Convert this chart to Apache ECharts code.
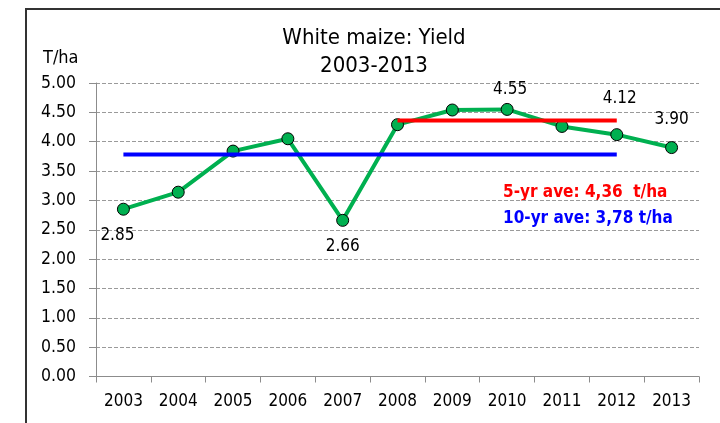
<!DOCTYPE html>
<html>
<head>
<meta charset="utf-8">
<title>White maize: Yield</title>
<script src="https://cdn.jsdelivr.net/npm/echarts@6/dist/echarts.min.js"></script>
<style>
  html, body { margin: 0; padding: 0; background: #fff; }
  #chart { width: 720px; height: 423px; }
</style>
</head>
<body>
<div id="chart"></div>
<script>
// data
const years = ["2003", "2004", "2005", "2006", "2007", "2008", "2009", "2010", "2011", "2012", "2013"];
const yieldValues = [2.85, 3.14, 3.84, 4.05, 2.66, 4.29, 4.54, 4.55, 4.26, 4.12, 3.90];
const aveFiveYr = [null, null, null, null, null, 4.36, 4.36, 4.36, 4.36, 4.36, null];
const aveTenYr = [3.78, 3.78, 3.78, 3.78, 3.78, 3.78, 3.78, 3.78, 3.78, 3.78, null];
const yTicks = [0, 0.5, 1, 1.5, 2, 2.5, 3, 3.5, 4, 4.5, 5];
const labelledYears = ["2003", "2007", "2010", "2012", "2013"];

const FONT = '"DejaVu Sans Condensed", "DejaVu Sans", sans-serif';

// where each value label sits
const labelPlace = {
  "2003": { position: "bottom", distance: 11, offset: [-6, 0] },
  "2007": { position: "bottom", distance: 11, offset: [0, 0] },
  "2010": { position: "top", distance: 5, offset: [3, 0] },
  "2012": { position: "top", distance: 21, offset: [3, 0] },
  "2013": { position: "top", distance: 13, offset: [0, 0] },
};

const chart = echarts.init(document.getElementById("chart"));

const yieldData = yieldValues.map((v, i) => {
  const yr = years[i];
  if (labelledYears.indexOf(yr) < 0) return v;
  return {
    value: v,
    label: Object.assign({ show: true }, labelPlace[yr]),
  };
});

chart.setOption({
  animation: false,
  textStyle: { fontFamily: FONT },
  grid: {
    left: 96,
    right: 21,
    top: 83,
    bottom: 46.5,
  },
  xAxis: {
    type: "category",
    data: years,
    boundaryGap: true,
    axisLine: { lineStyle: { color: "#8c8c8c", width: 1 } },
    axisTick: { show: true, inside: false, length: 6, lineStyle: { color: "#8c8c8c" } },
    axisLabel: { color: "#000", fontSize: 17, fontFamily: FONT, margin: 17 },
    splitLine: { show: false },
  },
  yAxis: {
    type: "value",
    min: yTicks[0],
    max: yTicks[yTicks.length - 1],
    interval: 0.5,
    axisLine: { show: true, lineStyle: { color: "#8c8c8c", width: 1 } },
    axisTick: { show: true, inside: false, length: 7, lineStyle: { color: "#8c8c8c" } },
    axisLabel: {
      color: "#000",
      fontSize: 17.5,
      fontFamily: FONT,
      margin: 20,
      formatter: (v) => v.toFixed(2),
    },
    splitLine: {
      show: true,
      lineStyle: { color: "#9a9a9a", type: [4, 2], width: 1 },
    },
  },
  series: [
    {
      name: "Yield",
      type: "line",
      data: yieldData,
      z: 2,
      symbol: "circle",
      symbolSize: 12,
      lineStyle: { color: "#00b050", width: 4 },
      itemStyle: { color: "#00b050", borderColor: "#000", borderWidth: 1 },
      label: {
        show: false,
        color: "#000",
        fontSize: 17,
        fontFamily: FONT,
        formatter: (p) => p.value.toFixed(2),
      },
    },
    {
      name: "10-yr ave",
      type: "line",
      data: aveTenYr,
      z: 3,
      symbol: "none",
      lineStyle: { color: "#0000ff", width: 4 },
    },
    {
      name: "5-yr ave",
      type: "line",
      data: aveFiveYr,
      z: 3,
      symbol: "none",
      lineStyle: { color: "#ff0000", width: 4 },
    },
  ],
  graphic: [
    {
      type: "rect",
      shape: { x: 26, y: 9, width: 720, height: 440 },
      style: { fill: "none", stroke: "#333", lineWidth: 2 },
      silent: true,
    },
    {
      type: "text",
      x: 374,
      y: 38,
      style: {
        text: "White maize: Yield",
        fill: "#000",
        font: "22px " + FONT,
        textAlign: "center",
        textVerticalAlign: "middle",
      },
    },
    {
      type: "text",
      x: 374,
      y: 66,
      style: {
        text: "2003-2013",
        fill: "#000",
        font: "22px " + FONT,
        textAlign: "center",
        textVerticalAlign: "middle",
      },
    },
    {
      type: "text",
      x: 43,
      y: 58,
      style: {
        text: "T/ha",
        fill: "#000",
        font: "18px " + FONT,
        textAlign: "left",
        textVerticalAlign: "middle",
      },
    },
    {
      type: "text",
      x: 503,
      y: 193,
      style: {
        text: "5-yr ave: 4,36  t/ha",
        fill: "#ff0000",
        font: "bold 17px " + FONT,
        textAlign: "left",
        textVerticalAlign: "middle",
      },
    },
    {
      type: "text",
      x: 503,
      y: 219,
      style: {
        text: "10-yr ave: 3,78 t/ha",
        fill: "#0000ff",
        font: "bold 17px " + FONT,
        textAlign: "left",
        textVerticalAlign: "middle",
      },
    },
  ],
});
</script>
</body>
</html>
